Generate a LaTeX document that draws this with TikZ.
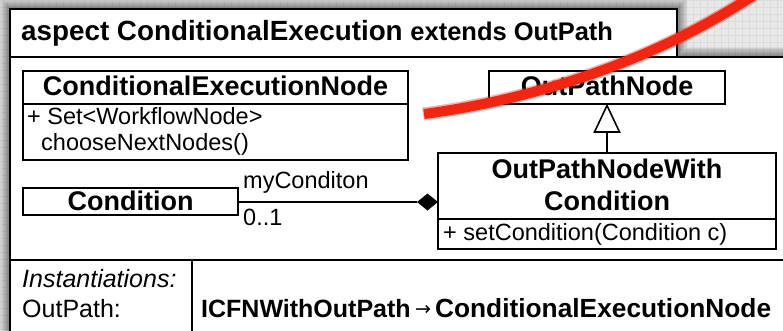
\documentclass[tikz,border=0pt]{standalone}
\usepackage{fontspec}
\setmainfont{Liberation Sans}
\newfontfamily\arrowfont{DejaVu Sans}
\begin{document}
\begin{tikzpicture}[x=1pt,y=-1pt,
  canvas/.style={fill={rgb,255:red,232;green,232;blue,232}},
  gridline/.style={draw={rgb,255:red,219;green,219;blue,219},line width=0.5pt},
  frame/.style={draw=black,line width=1.8pt},
  umlbox/.style={draw=black,line width=1.6pt},
  cname/.style={font=\fontsize{27}{30}\selectfont\bfseries,inner sep=0pt,anchor=base},
  attr/.style={font=\fontsize{23.5}{26}\selectfont,inner sep=0pt,anchor=base west},
  lbl/.style={font=\fontsize{23.5}{26}\selectfont,inner sep=0pt,anchor=base west},
  brush/.style={draw={rgb,255:red,240;green,38;blue,18},line cap=butt}
]
\useasboundingbox (0,0) rectangle (783,330);

% canvas with a faint grid
\fill[canvas] (0,0) rectangle (783,330);
\foreach \gx in {0,7,...,783} {\draw[gridline] (\gx,0) -- (\gx,330);}
\foreach \gy in {0,7,...,330} {\draw[gridline] (0,\gy) -- (783,\gy);}

% soft drop shadow of the aspect frame
\foreach \d in {0,...,10} {
  \fill[black,opacity=0.05] (10-\d,9-\d) -- (677+\d,9-\d) -- (677+\d,57-\d)
     -- (790,57-\d) -- (790,340) -- (10-\d,340) -- cycle;
}

% aspect frame: title tab and body
\fill[white] (10,9) rectangle (677,57);
\fill[white] (10,57) rectangle (790,340);
\draw[frame] (10,340) -- (10,9) -- (677,9) -- (677,57);
\draw[frame] (10,57) -- (790,57);
\node[inner sep=0pt,anchor=base west,font=\bfseries] (title) at (21,40)
  {\fontsize{27.8}{30}\selectfont aspect ConditionalExecution \fontsize{25.5}{28}\selectfont extends OutPath};

% ConditionalExecutionNode class
\draw[umlbox,fill=white] (23,71) rectangle (408,160);
\draw[umlbox] (23,104) -- (408,104);
\node[cname] (cenname) at (215.5,95) {ConditionalExecutionNode};
\node[attr] (cenop1) at (27,124) {+ Set<WorkflowNode>};
\node[attr] (cenop2) at (41,150) {chooseNextNodes()};

% OutPathNode class
\draw[umlbox,fill=white] (489,71) rectangle (725,104);
\node[cname] (opn) at (607,95) {OutPathNode};
\coordinate (opnbot) at (607,105.5);

% OutPathNodeWithCondition class
\draw[umlbox,fill=white] (438,153) rectangle (776,249);
\draw[umlbox] (438,219) -- (776,219);
\coordinate (opnwctop) at (607,153);
\coordinate (opnwcleft) at (438,202);
\node[cname] (opnwc1) at (607,178) {OutPathNodeWith};
\node[cname] (opnwc2) at (607,210) {Condition};
\node[attr] (opnwcop) at (443,240) {+ setCondition(Condition c)};

% Condition class
\draw[umlbox,fill=white] (23,188) rectangle (238,215);
\coordinate (condright) at (238,202);
\node[cname] (condname) at (130.5,210) {Condition};

% generalisation: hollow triangle
\draw[line width=1.6pt] (opnwctop) -- (607,132);
\draw[line width=1.6pt,fill=white,line join=miter] (opnbot) -- (619.5,132) -- (594.5,132) -- cycle;

% composition: filled diamond at the owner
\draw[line width=1.6pt] (condright) -- (417,202);
\fill[black] (opnwcleft) -- (427.5,193.5) -- (417,202) -- (427.5,210.5) -- cycle;
\node[lbl] (role) at (243,188) {myConditon};
\node[lbl] (mult) at (243,225) {0..1};

% instantiation compartment
\draw[frame] (10,260) -- (790,260);
\draw[frame] (192,260) -- (192,340);
\node[lbl,font=\fontsize{25}{28}\selectfont\itshape] (inst) at (22,287) {Instantiations:};
\node[lbl,font=\fontsize{25}{28}\selectfont] (ip) at (22,317) {OutPath:};
\node[lbl,font=\bfseries] (binding) at (201,317)
  {\fontsize{25}{28}\selectfont ICFNWithOutPath\hspace{4.5pt}\raisebox{2pt}{\arrowfont\mdseries\fontsize{19}{20}\selectfont →}\hspace{4pt}\fontsize{26.3}{28}\selectfont ConditionalExecutionNode};

% red brush stroke across the top right
\draw[brush,line width=13pt,opacity=0.35] (423,114) .. controls (530,100) and (655,62) .. (760,-9);
\draw[brush,line width=10pt] (424,114) .. controls (530,100) and (655,62) .. (760,-9);
\end{tikzpicture}
\end{document}
